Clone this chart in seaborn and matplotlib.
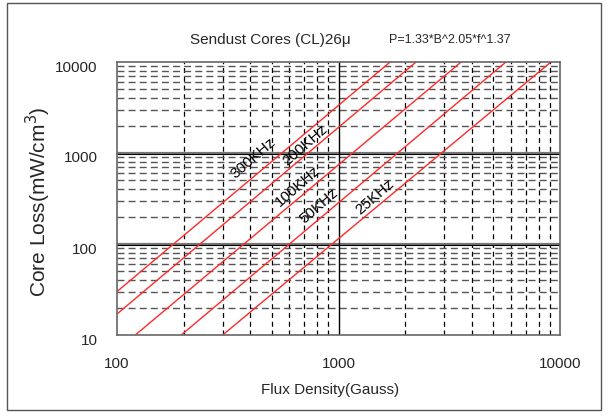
import numpy as np
import pandas as pd
import matplotlib
matplotlib.use("Agg")
import matplotlib.pyplot as plt
import matplotlib.ticker as mticker
from matplotlib.patches import Rectangle
from matplotlib.transforms import ScaledTranslation
import seaborn as sns

# ---- data ----
freq_labels = ["300KHz", "200KHz", "100KHz", "50KHz", "25KHz"]
b_start = [100, 100, 121, 195, 300]          # Gauss
p_start = [30, 17, 10, 10, 10]               # mW/cm^3
b_end = [1710, 2240, 3580, 5700, 9100]       # Gauss
p_end = [10000, 10000, 10000, 10000, 10000]  # mW/cm^3
label_b = [414, 703, 654, 813, 1459]
label_p = [881, 1224, 434, 262, 328]
x_ticks = [100, 1000, 10000]
y_ticks = [10, 100, 1000, 10000]

sns.set_style("white")
plt.rcParams["font.family"] = ["Liberation Sans", "DejaVu Sans"]

W, H = 608, 419
fig = plt.figure(figsize=(W / 100, H / 100), dpi=100)
ax = fig.add_axes([117 / W, (H - 335) / H, (560 - 117) / W, (335 - 62) / H])

rows = []
for lab, b0, p0, b1, p1 in zip(freq_labels, b_start, p_start, b_end, p_end):
    rows.append((lab, b0, p0))
    rows.append((lab, b1, p1))
df = pd.DataFrame(rows, columns=["freq", "B", "P"])

ax.set_xscale("log")
ax.set_yscale("log")
ax.set_xlim(100, 10000)
ax.set_ylim(10, 10000)

# grid lines
minor_x = [m * 10 ** e for e in (2, 3) for m in range(2, 10)]
minor_y = [m * 10 ** e for e in (1, 2, 3) for m in range(2, 10)]
for x in minor_x:
    ax.axvline(x, color="black", lw=0.9, dashes=(4, 3), zorder=1)
for y in minor_y:
    ax.axhline(y, color="#555555", lw=1.0, dashes=(5, 3), zorder=1)
for y in [100, 1000]:
    ax.axhline(y, color="#777777", lw=1.6, zorder=1)
    ax.axhline(y * 0.98, color="black", lw=0.8, zorder=1)
ax.axvline(1000, color="black", lw=1.0, zorder=1)

sns.lineplot(data=df, x="B", y="P", hue="freq",
             palette=["#ff2a2a"] * len(freq_labels), legend=False,
             lw=1.0, ax=ax, zorder=3)

for lab, bx, py in zip(freq_labels, label_b, label_p):
    ax.text(bx, py, lab, rotation=41, ha="center", va="center",
            fontsize=11, color="black", zorder=4,
            rotation_mode="anchor")

ax.xaxis.set_major_locator(mticker.FixedLocator(x_ticks))
ax.yaxis.set_major_locator(mticker.FixedLocator(y_ticks))
ax.xaxis.set_minor_locator(mticker.NullLocator())
ax.yaxis.set_minor_locator(mticker.NullLocator())
ax.xaxis.set_major_formatter(mticker.FixedFormatter([str(v) for v in x_ticks]))
ax.yaxis.set_major_formatter(mticker.FixedFormatter([str(v) for v in y_ticks]))
ax.tick_params(axis="x", length=0, pad=16, labelsize=11)
ax.tick_params(axis="y", length=0, pad=14, labelsize=11)
off = ScaledTranslation(0, -4 / 100, fig.dpi_scale_trans)
for lbl in ax.get_yticklabels():
    lbl.set_transform(lbl.get_transform() + off)

for s in ax.spines.values():
    s.set_color("#666666")
    s.set_linewidth(1.2)
    s.set_zorder(5)

ax.set_xlabel("")
ax.set_ylabel("")
fig.text(330 / W, 1 - 390 / H, "Flux Density(Gauss)", ha="center", va="center", fontsize=11)
fig.text(38 / W, 1 - 202 / H, "Core Loss(mW/cm$^3$)", ha="center", va="center",
         rotation=90, fontsize=15)
fig.text(270 / W, 1 - 40 / H, "Sendust Cores (CL)26μ", ha="center", va="center", fontsize=11)
fig.text(450 / W, 1 - 40 / H, "P=1.33*B^2.05*f^1.37", ha="center", va="center", fontsize=9)

fig.patches.append(Rectangle((7 / W, 1 - 410 / H), (601 - 7) / W, (410 - 3) / H,
                             transform=fig.transFigure, fill=False,
                             edgecolor="#555555", lw=1.0))

fig.savefig("out.png", dpi=100)
